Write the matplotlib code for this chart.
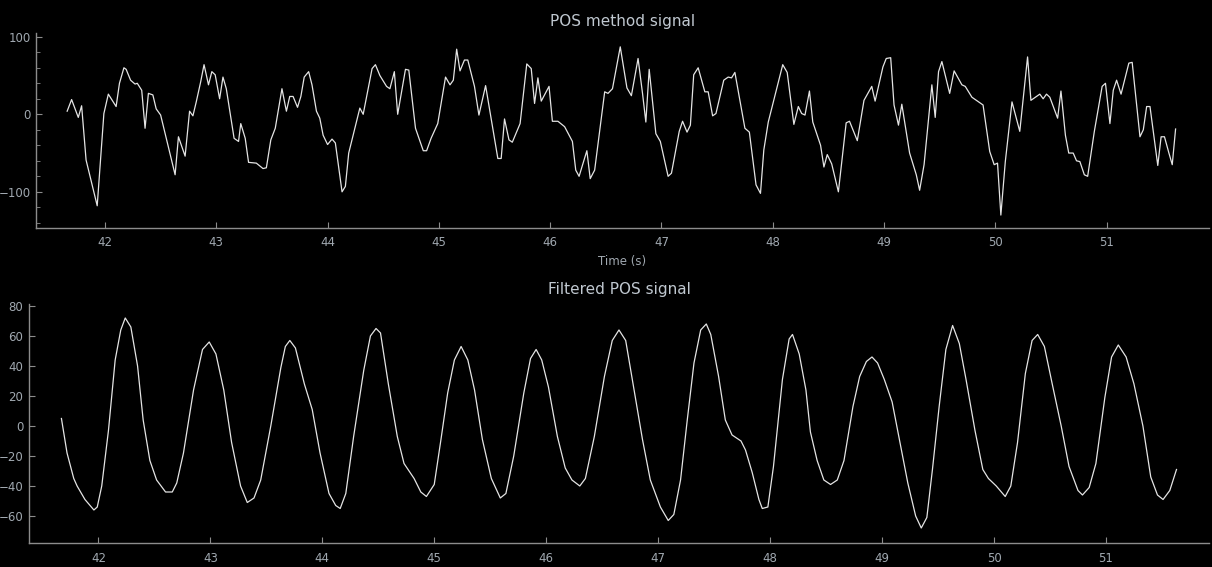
import matplotlib.pyplot as plt
from matplotlib.ticker import MultipleLocator

# raw POS signal (time in seconds, amplitude)
pos_t = [41.66, 41.70, 41.76, 41.79, 41.83, 41.93, 41.99, 42.03, 42.10, 42.13,
         42.17, 42.19, 42.23, 42.27, 42.29, 42.33, 42.36, 42.39, 42.43, 42.46,
         42.50, 42.63, 42.66, 42.72, 42.76, 42.79, 42.82, 42.86, 42.89, 42.93,
         42.96, 42.99, 43.03, 43.06, 43.09, 43.16, 43.20, 43.22, 43.26, 43.29,
         43.36, 43.42, 43.45, 43.49, 43.53, 43.59, 43.63, 43.66, 43.69, 43.73,
         43.76, 43.79, 43.83, 43.86, 43.90, 43.93, 43.96, 44.00, 44.04, 44.07,
         44.13, 44.16, 44.19, 44.29, 44.32, 44.40, 44.43, 44.47, 44.53, 44.56,
         44.60, 44.63, 44.70, 44.73, 44.79, 44.86, 44.89, 44.93, 44.99, 45.06,
         45.10, 45.13, 45.16, 45.19, 45.23, 45.26, 45.32, 45.36, 45.42, 45.53,
         45.56, 45.59, 45.63, 45.66, 45.73, 45.79, 45.83, 45.86, 45.89, 45.92,
         45.99, 46.02, 46.07, 46.13, 46.20, 46.23, 46.26, 46.33, 46.36, 46.40,
         46.49, 46.52, 46.56, 46.63, 46.69, 46.73, 46.79, 46.83, 46.86, 46.89,
         46.95, 46.99, 47.06, 47.09, 47.16, 47.19, 47.23, 47.26, 47.29, 47.33,
         47.39, 47.42, 47.46, 47.49, 47.56, 47.60, 47.63, 47.66, 47.75, 47.79,
         47.85, 47.89, 47.92, 47.96, 48.09, 48.13, 48.19, 48.23, 48.26, 48.29,
         48.33, 48.36, 48.43, 48.46, 48.49, 48.53, 48.59, 48.66, 48.69, 48.76,
         48.82, 48.89, 48.92, 48.99, 49.02, 49.06, 49.09, 49.13, 49.16, 49.19,
         49.23, 49.29, 49.32, 49.36, 49.43, 49.46, 49.49, 49.52, 49.59, 49.63,
         49.70, 49.73, 49.79, 49.89, 49.95, 49.99, 50.02, 50.05, 50.09, 50.15,
         50.22, 50.29, 50.32, 50.40, 50.43, 50.46, 50.49, 50.56, 50.59, 50.63,
         50.66, 50.70, 50.73, 50.76, 50.80, 50.83, 50.89, 50.96, 50.99, 51.03,
         51.06, 51.09, 51.13, 51.20, 51.23, 51.30, 51.33, 51.36, 51.39, 51.46,
         51.49, 51.52, 51.56, 51.59, 51.62]
pos_v = [4, 19, -4, 11, -59, -118, 1, 26, 10, 40,
         60, 58, 44, 39, 40, 31, -18, 27, 25, 7,
         -1, -78, -29, -54, 4, -2, 16, 42, 64, 38,
         55, 51, 20, 48, 33, -31, -35, -12, -31, -62,
         -63, -70, -69, -33, -18, 33, 4, 23, 23, 9,
         23, 48, 55, 38, 4, -5, -27, -39, -32, -37,
         -100, -93, -50, 8, 0, 59, 64, 50, 36, 33,
         55, 0, 58, 57, -18, -47, -47, -31, -12, 48,
         38, 44, 84, 56, 70, 70, 36, -1, 37, -57,
         -57, -6, -33, -36, -12, 65, 59, 14, 47, 17,
         36, -9, -9, -16, -35, -72, -80, -47, -83, -72,
         29, 27, 33, 87, 34, 24, 72, 27, -10, 58,
         -25, -35, -80, -76, -22, -9, -23, -14, 51, 60,
         29, 29, -2, 1, 44, 48, 47, 54, -18, -23,
         -91, -102, -46, -10, 64, 54, -13, 10, 1, -1,
         30, -10, -40, -68, -52, -64, -100, -11, -9, -34,
         18, 36, 17, 61, 72, 73, 12, -14, 13, -14,
         -50, -78, -98, -65, 38, -4, 55, 68, 27, 56,
         38, 36, 22, 12, -48, -65, -63, -130, -61, 16,
         -22, 74, 18, 26, 20, 26, 22, -5, 30, -27,
         -50, -50, -60, -61, -78, -80, -22, 36, 40, -12,
         31, 44, 26, 66, 67, -29, -20, 10, 10, -66,
         -29, -29, -50, -65, -19]

# band-pass filtered POS signal
filt_t = [41.67, 41.72, 41.78, 41.81, 41.88, 41.96, 41.99, 42.03, 42.09, 42.15,
          42.20, 42.24, 42.29, 42.35, 42.40, 42.46, 42.52, 42.60, 42.66, 42.70,
          42.76, 42.85, 42.93, 42.99, 43.05, 43.12, 43.19, 43.27, 43.33, 43.39,
          43.45, 43.54, 43.63, 43.67, 43.71, 43.76, 43.84, 43.91, 43.98, 44.06,
          44.12, 44.16, 44.21, 44.28, 44.37, 44.43, 44.48, 44.52, 44.59, 44.67,
          44.73, 44.82, 44.88, 44.93, 45.00, 45.06, 45.12, 45.18, 45.24, 45.30,
          45.36, 45.43, 45.51, 45.59, 45.64, 45.71, 45.80, 45.86, 45.91, 45.96,
          46.02, 46.10, 46.17, 46.23, 46.30, 46.35, 46.43, 46.52, 46.59, 46.65,
          46.71, 46.78, 46.86, 46.93, 47.02, 47.09, 47.14, 47.20, 47.26, 47.32,
          47.38, 47.43, 47.47, 47.54, 47.60, 47.66, 47.74, 47.78, 47.84, 47.90,
          47.93, 47.98, 48.03, 48.11, 48.17, 48.20, 48.26, 48.32, 48.36, 48.42,
          48.48, 48.54, 48.60, 48.66, 48.74, 48.80, 48.86, 48.91, 48.96, 49.02,
          49.09, 49.15, 49.23, 49.30, 49.35, 49.40, 49.45, 49.51, 49.57, 49.63,
          49.69, 49.75, 49.83, 49.90, 49.95, 50.02, 50.10, 50.15, 50.21, 50.28,
          50.34, 50.39, 50.45, 50.52, 50.60, 50.67, 50.75, 50.79, 50.85, 50.91,
          50.99, 51.05, 51.11, 51.18, 51.25, 51.33, 51.40, 51.46, 51.51, 51.57,
          51.63]
filt_v = [5, -18, -35, -40, -49, -56, -54, -40, -3, 44,
          64, 72, 66, 40, 4, -23, -36, -44, -44, -38,
          -18, 24, 51, 56, 48, 24, -11, -40, -51, -48,
          -36, 0, 39, 53, 57, 52, 28, 11, -18, -45,
          -53, -55, -45, -7, 37, 60, 65, 62, 28, -7,
          -25, -35, -44, -47, -39, -9, 22, 44, 53, 44,
          24, -9, -35, -48, -45, -20, 22, 45, 51, 44,
          26, -7, -28, -36, -40, -35, -7, 33, 57, 64,
          57, 26, -9, -36, -54, -63, -59, -36, 4, 42,
          64, 68, 61, 33, 4, -6, -10, -16, -31, -49,
          -55, -54, -27, 31, 58, 61, 48, 24, -4, -23,
          -36, -39, -36, -23, 13, 33, 43, 46, 42, 31,
          16, -7, -38, -60, -68, -61, -29, 13, 51, 67,
          55, 31, -3, -29, -35, -40, -47, -40, -11, 35,
          57, 61, 53, 28, 0, -27, -43, -46, -41, -25,
          19, 46, 54, 46, 28, 0, -34, -46, -49, -43,
          -29]

x_ticks = list(range(42, 52))

line_color = "#e4e4e4"
axis_color = "#8c8c8c"
tick_text = "#a0a8b0"
title_text = "#c0c8d0"


def style_axis(ax):
    ax.set_facecolor("black")
    for side in ["top", "right"]:
        ax.spines[side].set_visible(False)
    for side in ["left", "bottom"]:
        ax.spines[side].set_color(axis_color)
        ax.spines[side].set_linewidth(1.0)
    ax.tick_params(which="both", direction="in", colors=axis_color,
                   labelcolor=tick_text, labelsize=8.5, pad=4)
    ax.tick_params(axis="x", pad=6)
    ax.tick_params(which="major", length=4)
    ax.tick_params(which="minor", length=3)
    ax.set_xticks(x_ticks)
    ax.set_xlim(41.38, 51.92)


fig = plt.figure(figsize=(12.12, 5.67), dpi=100, facecolor="black")

# top panel: raw signal
ax1 = fig.add_axes([0.0297, 0.5984, 0.9678, 0.3429])
style_axis(ax1)
ax1.plot(pos_t, pos_v, color=line_color, linewidth=0.9)
ax1.set_ylim(-146.3, 104.5)
ax1.yaxis.set_major_locator(MultipleLocator(100))
ax1.yaxis.set_minor_locator(MultipleLocator(20))
ax1.set_title("POS method signal", color=title_text, fontsize=11, pad=5)
ax1.set_xlabel("Time (s)", color=tick_text, fontsize=8.5, labelpad=4)

# bottom panel: filtered signal
ax2 = fig.add_axes([0.0239, 0.0418, 0.9736, 0.4220])
style_axis(ax2)
ax2.plot(filt_t, filt_v, color=line_color, linewidth=0.9)
ax2.set_ylim(-78.2, 81.3)
ax2.yaxis.set_major_locator(MultipleLocator(20))
ax2.set_title("Filtered POS signal", color=title_text, fontsize=11, pad=7)

fig.savefig("out.png", dpi=100, facecolor="black")
